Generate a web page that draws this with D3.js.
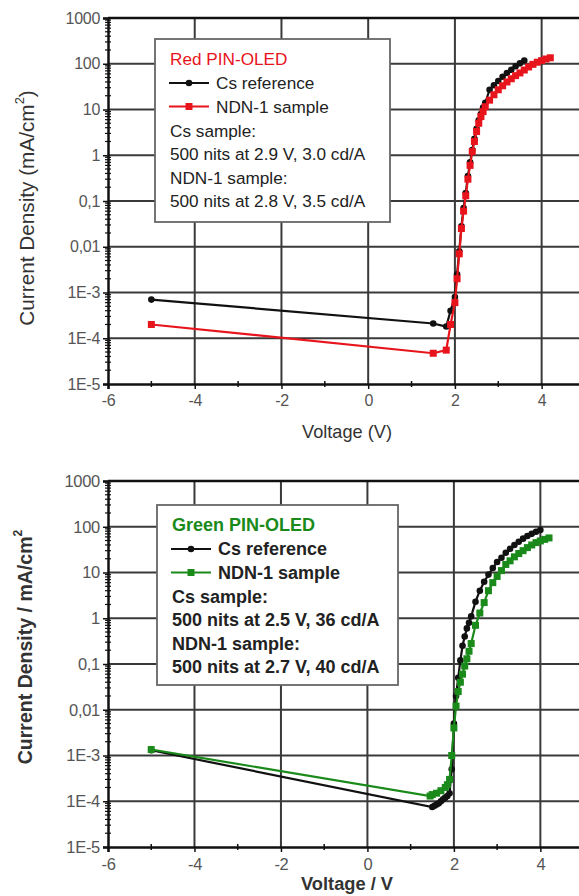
<!DOCTYPE html>
<html>
<head>
<meta charset="utf-8">
<script src="https://cdn.jsdelivr.net/npm/d3@7"></script>
<style>
  body { margin: 0; background: #fff; }
  svg { display: block; }
</style>
</head>
<body>
<div id="chart"></div>
<script>
// ---- data ----
const yTicks = [1e-5, 1e-4, 1e-3, 1e-2, 0.1, 1, 10, 100, 1000];
const yTickLabels = ["1E-5", "1E-4", "1E-3", "0,01", "0,1", "1", "10", "100", "1000"];
const xTicks = [-6, -4, -2, 0, 2, 4];
const xMinorTicks = [-5, -3, -1, 1, 3];

// red panel
const redCsV = [-5, 1.5, 1.8, 1.9, 2.0, 2.05, 2.1, 2.15, 2.2, 2.25, 2.3, 2.35, 2.4, 2.45, 2.5, 2.55, 2.6, 2.65, 2.7, 2.8, 2.9, 3.0, 3.1, 3.2, 3.3, 3.4, 3.5, 3.6];
const redCsJ = [7e-4, 2.1e-4, 1.8e-4, 4e-4, 8e-4, 2.5e-3, 8e-3, 0.028, 0.07, 0.15, 0.35, 0.7, 1.3, 2.3, 3.8, 5.8, 8, 11, 14, 27, 34, 42, 52, 63, 74, 88, 102, 118];
const redNdnV = [-5, 1.5, 1.8, 1.9, 2.0, 2.05, 2.1, 2.15, 2.2, 2.25, 2.3, 2.35, 2.4, 2.45, 2.5, 2.55, 2.6, 2.65, 2.7, 2.8, 2.9, 3.0, 3.1, 3.2, 3.3, 3.4, 3.5, 3.6, 3.7, 3.8, 3.9, 4.0, 4.1, 4.2];
const redNdnJ = [2.0e-4, 4.7e-5, 5.5e-5, 2e-4, 6e-4, 2e-3, 7e-3, 0.025, 0.06, 0.13, 0.3, 0.6, 1.2, 2.0, 3.3, 5, 7, 9, 11.5, 16, 21, 27, 33, 40, 47, 55, 63, 73, 85, 97, 108, 117, 127, 135];

// green panel
const greenCsV = [-5, 1.5, 1.55, 1.6, 1.65, 1.7, 1.75, 1.8, 1.85, 1.9, 1.95, 2.0, 2.05, 2.1, 2.15, 2.2, 2.25, 2.3, 2.35, 2.4, 2.5, 2.6, 2.7, 2.8, 2.9, 3.0, 3.1, 3.2, 3.3, 3.4, 3.5, 3.6, 3.7, 3.8, 3.9, 4.0];
const greenCsJ = [1.3e-3, 7.5e-5, 8e-5, 8.5e-5, 9e-5, 1.0e-4, 1.1e-4, 1.2e-4, 1.3e-4, 1.5e-4, 5e-4, 5e-3, 0.02, 0.05, 0.12, 0.25, 0.4, 0.6, 0.8, 1.1, 2.3, 4, 6.3, 9, 12.5, 17, 21, 27, 33, 40, 47, 55, 63, 70, 78, 85];
const greenNdnV = [-5, 1.45, 1.5, 1.6, 1.7, 1.8, 1.85, 1.9, 1.95, 2.0, 2.05, 2.1, 2.15, 2.2, 2.25, 2.3, 2.35, 2.4, 2.5, 2.6, 2.7, 2.8, 2.9, 3.0, 3.1, 3.2, 3.3, 3.4, 3.5, 3.6, 3.7, 3.8, 3.9, 4.0, 4.1, 4.2];
const greenNdnJ = [1.35e-3, 1.3e-4, 1.4e-4, 1.5e-4, 1.7e-4, 2e-4, 2.3e-4, 3e-4, 1e-3, 4e-3, 0.012, 0.025, 0.04, 0.06, 0.09, 0.13, 0.19, 0.28, 0.7, 1.3, 2.2, 4, 6, 8.2, 11, 15, 18, 22, 26, 30, 35, 40, 45, 49, 53, 57];

const W = 579, H = 896;
const FONT = "Liberation Sans, Arial, sans-serif";
const svg = d3.select("#chart").append("svg").attr("width", W).attr("height", H);

const zip = (v, j) => v.map((d, i) => ({ v: d, j: j[i] }));

// scale a text's font so it spans the width seen in the picture
function fitText(sel, target) {
  const fs = +sel.attr("font-size");
  const len = sel.node().getComputedTextLength();
  sel.attr("font-size", fs * target / len);
  sel.selectAll("tspan.sup").attr("font-size", fs * target / len * 0.62);
}

function drawPanel(cfg) {
  const x = d3.scaleLinear().domain([-6, 5]).range([108, cfg.xRight]);
  const y = d3.scaleLog().domain([1e-5, 1000]).range([cfg.bottom, cfg.top]);
  const g = svg.append("g");
  const fw = cfg.bold ? "bold" : "normal";

  // grid
  g.selectAll(".hg").data(yTicks.slice(1)).join("line")
    .attr("x1", 108).attr("x2", W).attr("y1", d => y(d)).attr("y2", d => y(d))
    .attr("stroke", "#3a3a3a").attr("stroke-width", 2);
  g.selectAll(".vg").data(xTicks.slice(1)).join("line")
    .attr("x1", d => x(d)).attr("x2", d => x(d)).attr("y1", cfg.top).attr("y2", cfg.bottom)
    .attr("stroke", "#3a3a3a").attr("stroke-width", 2);

  // axes
  const yAxis = d3.axisLeft(y).tickValues(yTicks).tickFormat((d, i) => yTickLabels[i])
    .tickSize(5).tickPadding(3);
  const ya = g.append("g").attr("transform", "translate(108,0)").call(yAxis);
  const xAxis = d3.axisBottom(x).tickValues(xTicks).tickFormat(d => String(d))
    .tickSize(5).tickPadding(6);
  const xa = g.append("g").attr("transform", `translate(0,${cfg.bottom})`).call(xAxis);
  [ya, xa].forEach(a => {
    a.select(".domain").attr("stroke", "#111").attr("stroke-width", 2.5);
    a.selectAll(".tick line").attr("stroke", "#111").attr("stroke-width", 1.5);
    a.selectAll("text").attr("fill", "#555").attr("font-size", cfg.tickFont)
      .attr("font-family", FONT).attr("font-weight", "normal").attr("letter-spacing", -0.3);
  });

  // minor ticks
  const minorY = [];
  for (let e = -5; e < 3; e++) for (let k = 2; k < 10; k++) minorY.push(k * Math.pow(10, e));
  g.selectAll(".my").data(minorY).join("line")
    .attr("x1", 105).attr("x2", 111).attr("y1", d => y(d)).attr("y2", d => y(d))
    .attr("stroke", "#111").attr("stroke-width", 1.2);
  g.selectAll(".mx").data(xMinorTicks).join("line")
    .attr("x1", d => x(d)).attr("x2", d => x(d)).attr("y1", cfg.bottom - 3).attr("y2", cfg.bottom + 3)
    .attr("stroke", "#111").attr("stroke-width", 1.5);

  // top frame
  g.append("line").attr("x1", 108).attr("x2", W).attr("y1", cfg.top).attr("y2", cfg.top)
    .attr("stroke", "#111").attr("stroke-width", 2.5);

  // series
  const line = d3.line().x(d => x(d.v)).y(d => y(d.j));
  cfg.series.forEach(s => {
    const data = zip(s.v, s.j);
    g.append("path").datum(data).attr("d", line).attr("fill", "none")
      .attr("stroke", s.color).attr("stroke-width", 2.2);
    if (s.shape === "circle") {
      g.selectAll(null).data(data).join("circle")
        .attr("cx", d => x(d.v)).attr("cy", d => y(d.j)).attr("r", 3.3).attr("fill", s.color);
    } else {
      g.selectAll(null).data(data).join("rect")
        .attr("x", d => x(d.v) - 3.5).attr("y", d => y(d.j) - 3.5)
        .attr("width", 7).attr("height", 7).attr("fill", s.color);
    }
  });

  // axis titles
  const xt = g.append("text").attr("x", 347).attr("y", cfg.xTitleY).attr("text-anchor", "middle")
    .attr("dominant-baseline", "central")
    .attr("font-family", FONT).attr("font-size", 17)
    .attr("font-weight", fw).attr("fill", "#333").text(cfg.xTitle);
  fitText(xt, cfg.xTitleLen);
  const yt = g.append("text")
    .attr("transform", `translate(${cfg.yTitleX},${cfg.yTitleY}) rotate(-90)`)
    .attr("text-anchor", "middle").attr("dominant-baseline", "central")
    .attr("font-family", FONT).attr("font-size", 17)
    .attr("font-weight", fw).attr("fill", "#333");
  yt.append("tspan").text(cfg.yTitle[0]);
  yt.append("tspan").attr("class", "sup").attr("dy", -7).attr("font-size", 11).text("2");
  yt.append("tspan").attr("dy", 7).text(cfg.yTitle[1]);
  fitText(yt, cfg.yTitleLen);

  // legend
  const lg = g.append("g").attr("transform", `translate(${cfg.legend[0]},${cfg.legend[1]})`);
  lg.append("rect").attr("width", cfg.legend[2]).attr("height", cfg.legend[3])
    .attr("fill", "#fff").attr("stroke", "#666").attr("stroke-width", 1.8);
  const tx = (yy, xx, t, col) => lg.append("text").attr("x", xx).attr("y", yy)
    .attr("dominant-baseline", "central").attr("font-size", cfg.legendFont)
    .attr("font-family", FONT).attr("font-weight", fw)
    .attr("fill", col || "#222").text(t);
  const lines = cfg.legendText;
  tx(20, 15, lines[0], cfg.series[1].color);
  cfg.series.forEach((s, i) => {
    const yy = 44 + i * 23.5;
    lg.append("line").attr("x1", 14).attr("x2", 54).attr("y1", yy).attr("y2", yy)
      .attr("stroke", s.color).attr("stroke-width", 2.2);
    if (s.shape === "circle") lg.append("circle").attr("cx", 34).attr("cy", yy).attr("r", 3.3).attr("fill", s.color);
    else lg.append("rect").attr("x", 30.5).attr("y", yy - 3.5).attr("width", 7).attr("height", 7).attr("fill", s.color);
    tx(yy, 61, s.name);
  });
  for (let i = 1; i < lines.length; i++) tx(91.5 + (i - 1) * 23.5, 15, lines[i]);
}

drawPanel({
  top: 18, bottom: 384, xRight: 585, bold: false, tickFont: 16, legendFont: 17.2,
  xTitle: "Voltage (V)", xTitleY: 432, xTitleLen: 90,
  yTitle: ["Current Density (mA/cm", ")"], yTitleX: 26, yTitleY: 208, yTitleLen: 236,
  legend: [155, 39, 235, 183],
  legendText: ["Red PIN-OLED", "Cs sample:", "500 nits at 2.9 V, 3.0 cd/A", "NDN-1 sample:", "500 nits at 2.8 V, 3.5 cd/A"],
  series: [
    { name: "Cs reference", v: redCsV, j: redCsJ, color: "#111", shape: "circle" },
    { name: "NDN-1 sample", v: redNdnV, j: redNdnJ, color: "#e8141c", shape: "square" }
  ]
});

drawPanel({
  top: 481, bottom: 847, xRight: 583.6, bold: true, tickFont: 16.5, legendFont: 18,
  xTitle: "Voltage / V", xTitleY: 883, xTitleLen: 92,
  yTitle: ["Current Density / mA/cm", ""], yTitleX: 25, yTitleY: 647, yTitleLen: 235,
  legend: [157, 505, 241, 180],
  legendText: ["Green PIN-OLED", "Cs sample:", "500 nits at 2.5 V, 36 cd/A", "NDN-1 sample:", "500 nits at 2.7 V, 40 cd/A"],
  series: [
    { name: "Cs reference", v: greenCsV, j: greenCsJ, color: "#111", shape: "circle" },
    { name: "NDN-1 sample", v: greenNdnV, j: greenNdnJ, color: "#1a8a1a", shape: "square" }
  ]
});
</script>
</body>
</html>
